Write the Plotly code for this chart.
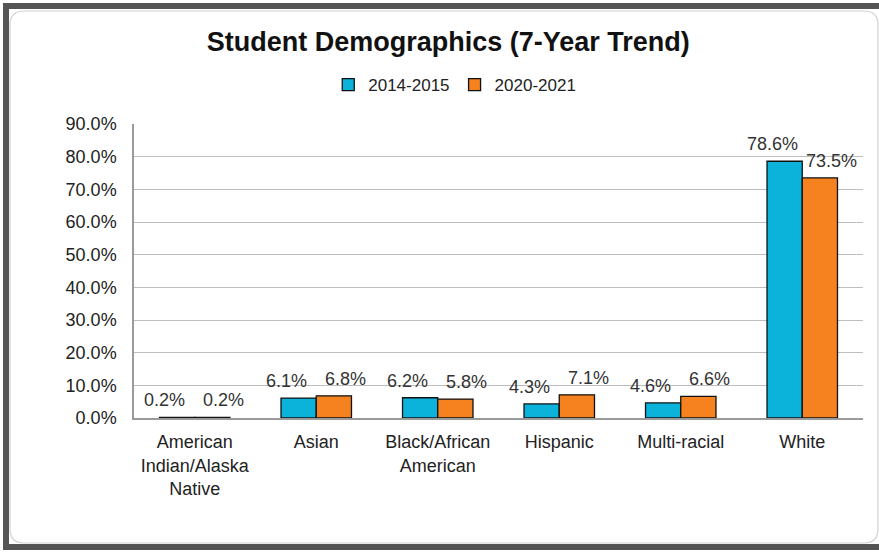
import plotly.graph_objects as go

categories = ["American<br>Indian/Alaska<br>Native", "Asian", "Black/African<br>American",
              "Hispanic", "Multi-racial", "White"]
y2014 = [0.2, 6.1, 6.2, 4.3, 4.6, 78.6]
y2020 = [0.2, 6.8, 5.8, 7.1, 6.6, 73.5]
series_names = ["2014-2015", "2020-2021"]

W, H = 879, 552
L, R, T, B = 134, 16, 124, 134
pw, ph = W - L - R, H - T - B


def px(x):
    return (x - L) / pw


def py(y):
    return (H - B - y) / ph


fig = go.Figure()
for name, vals, col, shift in [(series_names[0], y2014, "#0BB3DA", -30),
                               (series_names[1], y2020, "#F5821F", 29)]:
    fig.add_bar(
        x=categories, y=vals, name=name,
        marker=dict(color=col, line=dict(color="#111111", width=1.3)),
    )
    # data labels sit a little wide of the bars, like the excel original
    for c, v in zip(categories, vals):
        fig.add_annotation(x=c, y=v, text=f"{v:.1f}%", showarrow=False,
                           xshift=shift, yshift=5, yanchor="bottom",
                           font=dict(size=18, color="#333333"))

# outer frame + inner rounded panel
x0, x1, y0, y1, r = 10, 878, 11, 543, 14
rx, ry = r / pw, r / ph
path = (f"M {px(x0)+rx},{py(y0)} L {px(x1)-rx},{py(y0)} Q {px(x1)},{py(y0)} {px(x1)},{py(y0)-ry} "
        f"L {px(x1)},{py(y1)+ry} Q {px(x1)},{py(y1)} {px(x1)-rx},{py(y1)} "
        f"L {px(x0)+rx},{py(y1)} Q {px(x0)},{py(y1)} {px(x0)},{py(y1)+ry} "
        f"L {px(x0)},{py(y0)-ry} Q {px(x0)},{py(y0)} {px(x0)+rx},{py(y0)} Z")
fig.add_shape(type="path", xref="paper", yref="paper", path=path,
              line=dict(color="#d0d0d0", width=1.2), layer="below")
fig.add_shape(type="rect", xref="paper", yref="paper",
              x0=px(6), x1=px(900), y0=py(6), y1=py(547),
              line=dict(color="#555555", width=6), layer="below")

fig.update_layout(
    width=W, height=H,
    margin=dict(l=L, r=R, t=T, b=B),
    paper_bgcolor="white", plot_bgcolor="white",
    font=dict(family="Liberation Sans, Arial", size=18, color="#222222"),
    title=dict(text="<b>Student Demographics (7-Year Trend)</b>", x=0.51, xanchor="center",
               y=1 - 42 / H, yanchor="middle", font=dict(size=27, color="#111111")),
    legend=dict(orientation="h", x=0.44, xanchor="center", y=py(85), yanchor="middle",
                font=dict(size=17, color="#222222"), itemwidth=30, traceorder="normal"),
    barmode="group", bargap=0.42, bargroupgap=0,
    showlegend=True,
)
fig.update_xaxes(showline=True, linecolor="#9a9a9a", linewidth=1.5, ticks="", showgrid=False,
                 ticklabelstandoff=7, tickfont=dict(size=18, color="#222222"))
fig.update_yaxes(range=[0, 90], dtick=10, tickformat=".1f", ticksuffix="%",
                 showline=True, linecolor="#9a9a9a", linewidth=1.5,
                 gridcolor="#bdbdbd", gridwidth=1.3, zeroline=False,
                 ticks="outside", ticklen=12, tickcolor="rgba(0,0,0,0)",
                 tickfont=dict(size=18, color="#222222"))

fig.write_html("out.html", config={"displayModeBar": False},
               post_script="document.body.style.margin='0';")
